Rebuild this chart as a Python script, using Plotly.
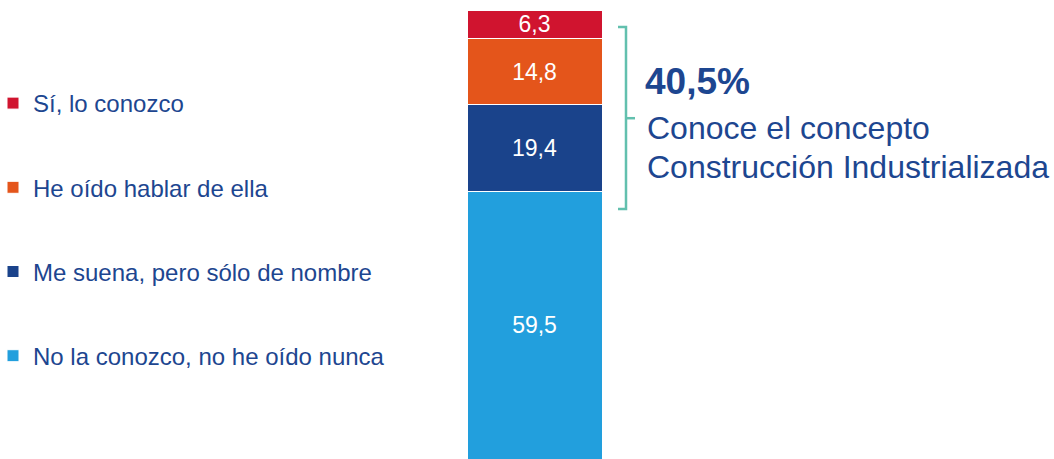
import plotly.graph_objects as go

categories = ["No la conozco, no he oído nunca", "Me suena, pero sólo de nombre",
              "He oído hablar de ella", "Sí, lo conozco"]
values = [59.5, 19.4, 14.8, 6.3]
colors = ["#229fdd", "#1a438b", "#e4551b", "#d0142f"]
bar_name = [0]

known_share = sum(values[1:])  # 40.5
summary_lines = ["Conoce el concepto", "Construcción Industrializada"]

TEXT_BLUE = "#1d4690"
TEAL = "#62c0ae"
FONT = "Liberation Sans, Arial, sans-serif"

W, H = 1054, 459
BAR_L, BAR_R = 467, 602          # bar pixel extent
BAR_PX = BAR_R - BAR_L


def px(xp):
    return xp / W


fig = go.Figure()
n = len(categories)
for i, (cat, val, col) in enumerate(zip(categories, values, colors)):
    fig.add_trace(go.Bar(
        x=bar_name, y=[val], name=cat, legendgroup=f"g{i}", legendrank=n - i,
        marker=dict(color=col, line=dict(color="white", width=1)),
        width=1,
        text=[f"{val:.1f}".replace(".", ",")],
        textposition="inside", insidetextanchor="middle", constraintext="none",
        textfont=dict(color="white", size=23, family=FONT),
        hoverinfo="skip",
    ))

fig.update_layout(
    width=W, height=H,
    barmode="stack",
    margin=dict(l=0, r=0, t=10, b=0, autoexpand=False),
    paper_bgcolor="white", plot_bgcolor="white",
    font=dict(family=FONT, color=TEXT_BLUE),
    xaxis=dict(visible=False,
               range=[-0.5 - BAR_L / BAR_PX, 0.5 + (W - BAR_R) / BAR_PX]),
    yaxis=dict(visible=False, range=[0, 100]),
    showlegend=True,
    legend=dict(
        xref="paper", yref="container", x=px(-7), y=1 - 81 / H,
        xanchor="left", yanchor="top",
        traceorder="grouped", tracegroupgap=50, maxheight=1.0,
        font=dict(size=24, color=TEXT_BLUE, family=FONT),
        bgcolor="rgba(0,0,0,0)",
    ),
)

# bracket (decorative)
x_left, x_mid, x_tick = px(618), px(626), px(635)
y_top, y_bot, y_tick = 96.2, 55.7, 75.9
fig.add_shape(type="path", xref="paper", yref="y",
              path=f"M {x_left},{y_top} L {x_mid},{y_top} L {x_mid},{y_bot} L {x_left},{y_bot}",
              line=dict(color=TEAL, width=2.5))
fig.add_shape(type="line", xref="paper", yref="y",
              x0=x_mid, x1=x_tick, y0=y_tick, y1=y_tick,
              line=dict(color=TEAL, width=2.5))

fig.add_annotation(xref="paper", yref="y", x=px(643), y=84.0,
                   xanchor="left", yanchor="middle", showarrow=False,
                   text=f"<b>{known_share:.1f}%</b>".replace(".", ","),
                   font=dict(size=37, color=TEXT_BLUE, family=FONT))
for line, yv in zip(summary_lines, [73.7, 65.0]):
    fig.add_annotation(xref="paper", yref="y", x=px(645), y=yv,
                       xanchor="left", yanchor="middle", showarrow=False, align="left",
                       text=line,
                       font=dict(size=32, color=TEXT_BLUE, family=FONT))

fig.write_html("out.html", config={"displayModeBar": False},
               post_script="document.body.style.margin='0px';")
